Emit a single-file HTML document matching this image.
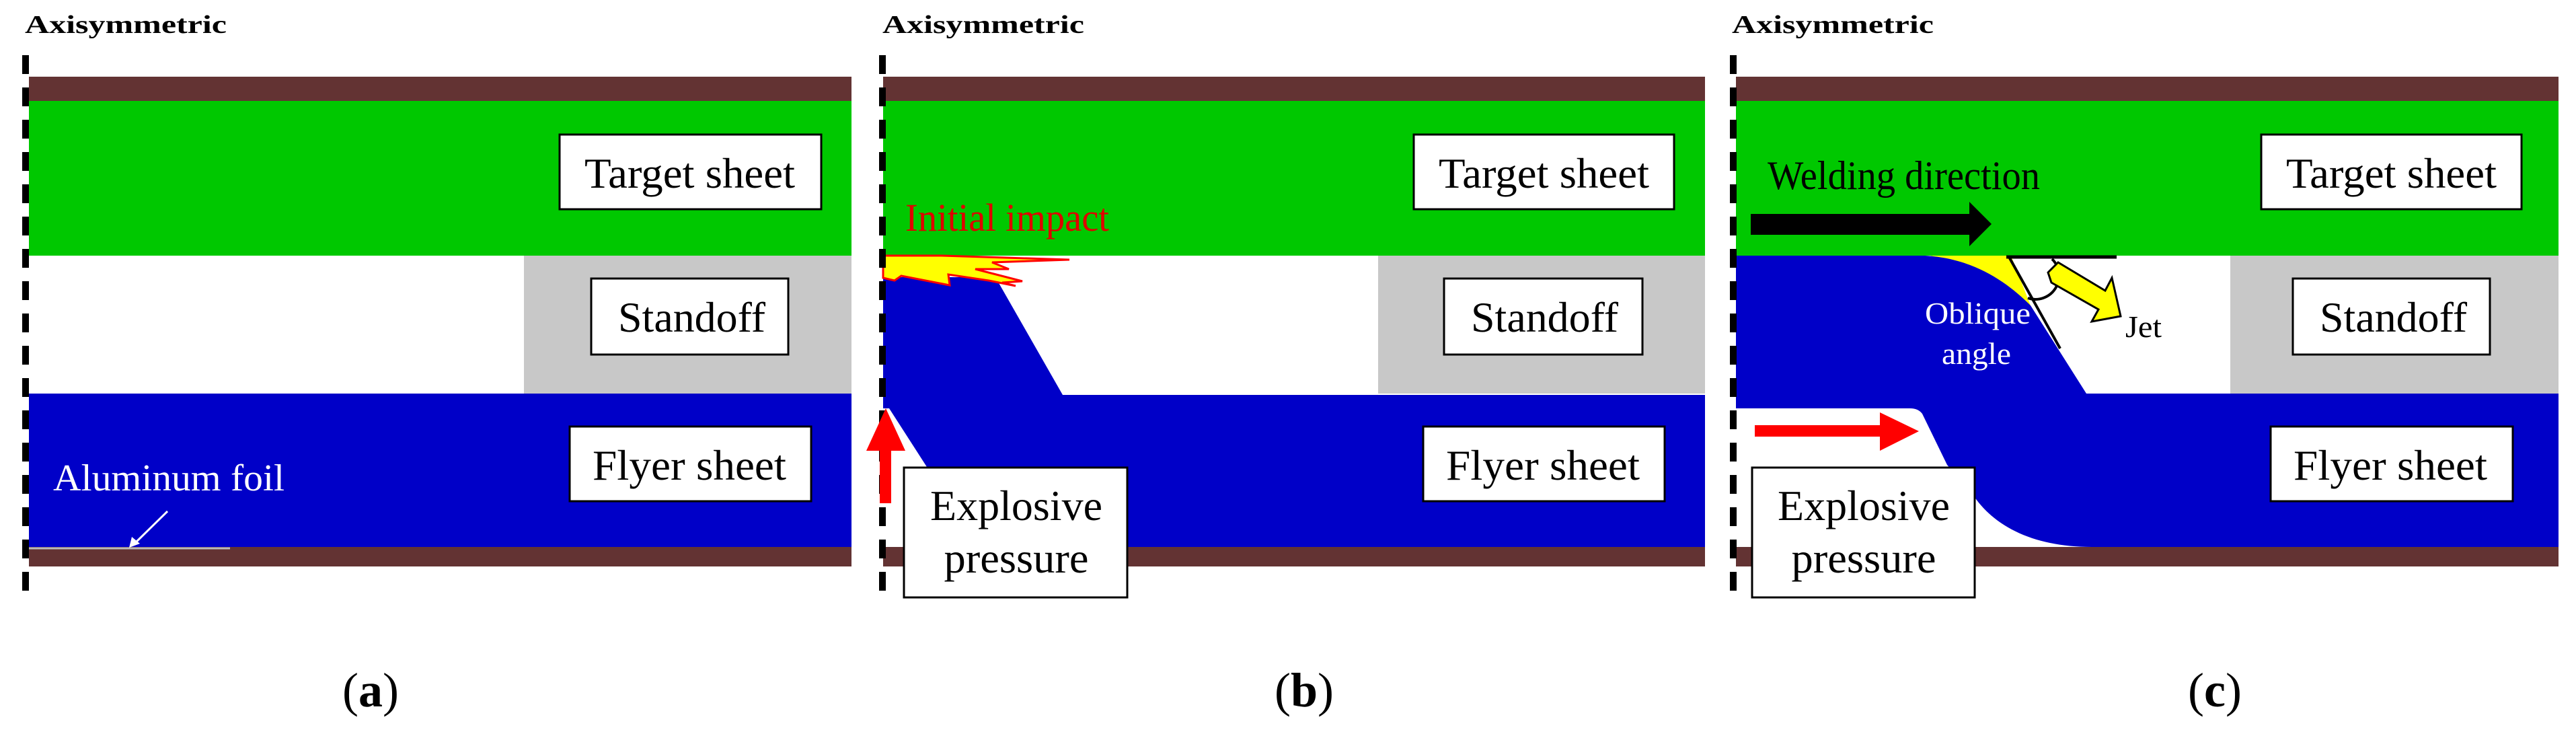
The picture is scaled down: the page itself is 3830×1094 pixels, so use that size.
<!DOCTYPE html>
<html><head><meta charset="utf-8"><style>
html,body{margin:0;padding:0;background:#fff;}
svg{display:block;}
text{font-family:"Liberation Serif",serif;}
</style></head><body>
<svg width="3830" height="1094" viewBox="0 0 3830 1094" xmlns="http://www.w3.org/2000/svg">
<!-- ===== Panel a ===== -->
<rect x="43" y="114" width="1223" height="36" fill="#633333"/>
<rect x="43" y="150" width="1223" height="230" fill="#00c800"/>
<rect x="779" y="380" width="487" height="205" fill="#c8c8c8"/>
<rect x="43" y="585" width="1223" height="228" fill="#0000c8"/>
<rect x="43" y="813" width="1223" height="29" fill="#633333"/>
<line x1="43" y1="815" x2="342" y2="815" stroke="#bbbbbb" stroke-width="3"/>
<line x1="249" y1="760" x2="200" y2="808" stroke="#fff" stroke-width="3"/>
<polygon points="192,814 196,798 208,808" fill="#fff"/>
<text x="79" y="729" font-size="56" fill="#fff" textLength="344" lengthAdjust="spacingAndGlyphs">Aluminum  foil</text>
<line x1="38" y1="82" x2="38" y2="885" stroke="#000" stroke-width="10" stroke-dasharray="28 20"/>
<text x="37" y="49" font-size="38" font-weight="bold" textLength="300" lengthAdjust="spacingAndGlyphs">Axisymmetric</text>
<rect x="832" y="200" width="389" height="111" fill="#fff" stroke="#000" stroke-width="3"/>
<text x="869" y="279" font-size="64" textLength="313" lengthAdjust="spacingAndGlyphs">Target sheet</text>
<rect x="879" y="414" width="293" height="113" fill="#fff" stroke="#000" stroke-width="3"/>
<text x="919" y="493" font-size="64" textLength="219" lengthAdjust="spacingAndGlyphs">Standoff</text>
<rect x="847" y="634" width="359" height="111" fill="#fff" stroke="#000" stroke-width="3"/>
<text x="881" y="713" font-size="64" textLength="288" lengthAdjust="spacingAndGlyphs">Flyer sheet</text>
<text x="551" y="1050" font-size="72" text-anchor="middle">(<tspan font-weight="bold">a</tspan>)</text>

<!-- ===== Panel b ===== -->
<rect x="1313" y="114" width="1222" height="36" fill="#633333"/>
<rect x="1313" y="150" width="1222" height="230" fill="#00c800"/>
<rect x="2049" y="380" width="486" height="205" fill="#c8c8c8"/>
<polygon points="1313,412 1480,412 1580,587 2535,587 2535,813 1378,813 1378,694 1322,607 1313,607" fill="#0000c8"/>
<rect x="1313" y="813" width="1222" height="29" fill="#633333"/>
<polygon points="1313,380 1400,380 1590,386 1475,390 1500,400 1450,400 1520,418 1490,420 1510,425 1470,417 1410,408 1412,424 1340,410 1330,417 1313,413" fill="#ffff00" stroke="#ff0000" stroke-width="3" stroke-linejoin="miter"/>
<text x="1346" y="343" font-size="58" fill="#e00000" textLength="303" lengthAdjust="spacingAndGlyphs">Initial impact</text>
<line x1="1312" y1="82" x2="1312" y2="885" stroke="#000" stroke-width="10" stroke-dasharray="28 20"/>
<rect x="1308" y="668" width="17" height="80" fill="#ff0000"/>
<polygon points="1288,670 1346,670 1317,607" fill="#ff0000"/>
<text x="1312" y="49" font-size="38" font-weight="bold" textLength="300" lengthAdjust="spacingAndGlyphs">Axisymmetric</text>
<rect x="1344" y="695" width="332" height="193" fill="#fff" stroke="#000" stroke-width="3"/>
<text x="1511" y="773" font-size="64" text-anchor="middle" textLength="256" lengthAdjust="spacingAndGlyphs">Explosive</text>
<text x="1511" y="851" font-size="64" text-anchor="middle" textLength="215" lengthAdjust="spacingAndGlyphs">pressure</text>
<rect x="2102" y="200" width="387" height="111" fill="#fff" stroke="#000" stroke-width="3"/>
<text x="2139" y="279" font-size="64" textLength="313" lengthAdjust="spacingAndGlyphs">Target sheet</text>
<rect x="2147" y="414" width="295" height="113" fill="#fff" stroke="#000" stroke-width="3"/>
<text x="2187" y="493" font-size="64" textLength="219" lengthAdjust="spacingAndGlyphs">Standoff</text>
<rect x="2116" y="634" width="359" height="111" fill="#fff" stroke="#000" stroke-width="3"/>
<text x="2150" y="713" font-size="64" textLength="288" lengthAdjust="spacingAndGlyphs">Flyer sheet</text>
<text x="1939" y="1050" font-size="72" text-anchor="middle">(<tspan font-weight="bold">b</tspan>)</text>

<!-- ===== Panel c ===== -->
<rect x="2581" y="114" width="1223" height="36" fill="#633333"/>
<rect x="2581" y="150" width="1223" height="230" fill="#00c800"/>
<rect x="3316" y="380" width="488" height="205" fill="#c8c8c8"/>
<polygon points="2870,380 2990,380 3019,454 2960,425" fill="#ffff00"/>
<path d="M2581,380 L2862,380 C2935,384 2985,420 3019,454 L3102,585 L3804,585 L3804,813 L3110,813 C3020,813 2960,780 2930,730 L2895,691 L2858,615 Q2852,607 2840,607 L2581,607 Z" fill="#0000c8"/>
<rect x="2581" y="813" width="1223" height="29" fill="#633333"/>
<line x1="2983" y1="382" x2="3147" y2="382" stroke="#000" stroke-width="5"/>
<line x1="2987" y1="382" x2="3063" y2="518" stroke="#000" stroke-width="4"/>
<path d="M3051,385 A35,35 0 0 1 3015,443" fill="none" stroke="#000" stroke-width="4"/>
<polygon points="3045,405 3060,390 3130,432 3140,413 3153,470 3110,478 3120,460 3050,420" fill="#ffff00" stroke="#000" stroke-width="3" stroke-linejoin="miter"/>
<text x="2862" y="481" font-size="46" fill="#fff" textLength="157" lengthAdjust="spacingAndGlyphs">Oblique</text>
<text x="2887" y="541" font-size="46" fill="#fff" textLength="103" lengthAdjust="spacingAndGlyphs">angle</text>
<text x="3160" y="501" font-size="46" fill="#000" textLength="54" lengthAdjust="spacingAndGlyphs">Jet</text>
<text x="2628" y="281" font-size="60" fill="#000" textLength="405" lengthAdjust="spacingAndGlyphs">Welding direction</text>
<rect x="2603" y="318" width="328" height="31" fill="#000"/>
<polygon points="2928,300 2961,333 2928,366" fill="#000"/>
<rect x="2609" y="632" width="188" height="17" fill="#ff0000"/>
<polygon points="2795,613 2853,641 2795,670" fill="#ff0000"/>
<line x1="2577" y1="82" x2="2577" y2="885" stroke="#000" stroke-width="10" stroke-dasharray="28 20"/>
<text x="2575" y="49" font-size="38" font-weight="bold" textLength="300" lengthAdjust="spacingAndGlyphs">Axisymmetric</text>
<rect x="2605" y="695" width="331" height="193" fill="#fff" stroke="#000" stroke-width="3"/>
<text x="2771" y="773" font-size="64" text-anchor="middle" textLength="256" lengthAdjust="spacingAndGlyphs">Explosive</text>
<text x="2771" y="851" font-size="64" text-anchor="middle" textLength="215" lengthAdjust="spacingAndGlyphs">pressure</text>
<rect x="3362" y="200" width="387" height="111" fill="#fff" stroke="#000" stroke-width="3"/>
<text x="3399" y="279" font-size="64" textLength="313" lengthAdjust="spacingAndGlyphs">Target sheet</text>
<rect x="3409" y="414" width="293" height="113" fill="#fff" stroke="#000" stroke-width="3"/>
<text x="3449" y="493" font-size="64" textLength="219" lengthAdjust="spacingAndGlyphs">Standoff</text>
<rect x="3376" y="634" width="360" height="111" fill="#fff" stroke="#000" stroke-width="3"/>
<text x="3410" y="713" font-size="64" textLength="288" lengthAdjust="spacingAndGlyphs">Flyer sheet</text>
<text x="3293" y="1050" font-size="72" text-anchor="middle">(<tspan font-weight="bold">c</tspan>)</text>
</svg>
</body></html>
